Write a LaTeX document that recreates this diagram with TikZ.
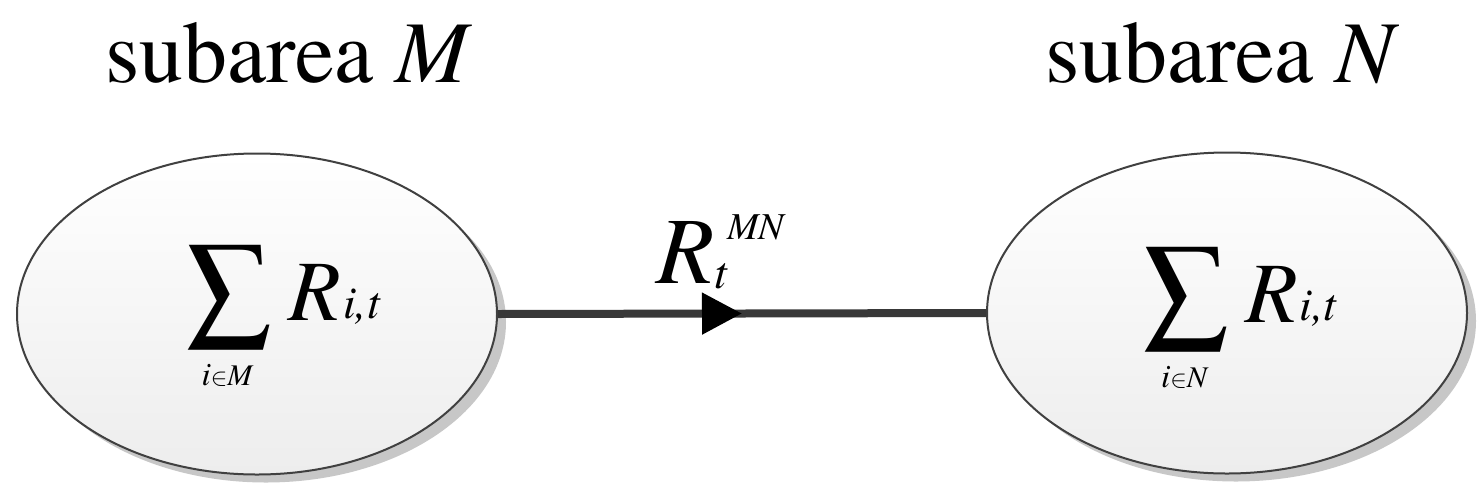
\documentclass[tikz,border=0pt]{standalone}
\usepackage{fontspec}
\setmainfont{texgyretermes}[Extension=.otf, UprightFont=*-regular, ItalicFont=*-italic, BoldFont=*-bold, BoldItalicFont=*-bolditalic]
\usepackage{tikz}
\usetikzlibrary{arrows.meta,positioning,shapes.geometric,shadows,decorations.markings}
\definecolor{edgegray}{HTML}{404040}
\definecolor{fillgray}{HTML}{EDEDED}
\definecolor{linegray}{HTML}{383838}
\tikzset{
  subarea/.style={ellipse, draw=edgegray, line width=2pt, top color=white, bottom color=fillgray, minimum width=480pt, minimum height=321pt, inner sep=0pt, drop shadow={shadow xshift=9pt, shadow yshift=-8pt, fill=black!22, opacity=1}},
  heading/.style={anchor=base west, inner sep=0pt, font=\fontsize{88}{100}\selectfont},
  sumsign/.style={inner sep=0pt, font=\fontsize{120}{130}\selectfont},
  bigR/.style={anchor=base west, inner sep=0pt, font=\fontsize{86}{96}\selectfont\itshape},
  flowR/.style={anchor=base west, inner sep=0pt, font=\fontsize{95}{105}\selectfont\itshape},
  subtext/.style={anchor=base west, inner sep=0pt, font=\fontsize{46}{52}\selectfont\itshape},
  suptext/.style={anchor=base west, inner sep=0pt, font=\fontsize{38}{44}\selectfont\itshape},
  idxtext/.style={anchor=base, inner sep=0pt, font=\fontsize{33}{40}\selectfont\itshape},
  flow/.style={line width=8pt, draw=linegray, postaction={decorate},
    decoration={markings, mark=at position 0.5 with {\arrow[black]{Triangle[length=40pt,width=40pt]}}}}
}
\begin{document}
\begin{tikzpicture}[x=1pt, y=-1pt]
  \useasboundingbox (0,0) rectangle (1481,499);
  % titles
  \node[heading] (titleM) at (105,82) {subarea \textit{M}};
  \node[heading] (titleN) at (1045,82) {subarea \textit{N}};

  % the two subareas
  \node[subarea] (areaM) at (257,314) {};
  \node[subarea] (areaN) at (1227,313) {};

  % exchange between them
  \draw[flow] (areaM.east) -- (areaN.west);
  \node[flowR] (flowR) at (656,283) {R};
  \node[subtext] (flowt) at (714,288) {t};
  \node[suptext] (flowMN) at (727,239) {MN};

  % sums inside the subareas
  \node[sumsign] (sumM) at (229,298) {∑};
  \node[bigR] (RM) at (288,320) {R};
  \node[subtext] (RMsub) at (343,318) {i,t};
  \node[idxtext] (idxM) at (227,385) {i\fontsize{30}{36}\selectfont$\in$M};

  \node[sumsign] (sumN) at (1186,300) {∑};
  \node[bigR] (RN) at (1245,322) {R};
  \node[subtext] (RNsub) at (1299,320) {i,t};
  \node[idxtext] (idxN) at (1184,387) {i\fontsize{30}{36}\selectfont$\in$N};
\end{tikzpicture}
\end{document}
